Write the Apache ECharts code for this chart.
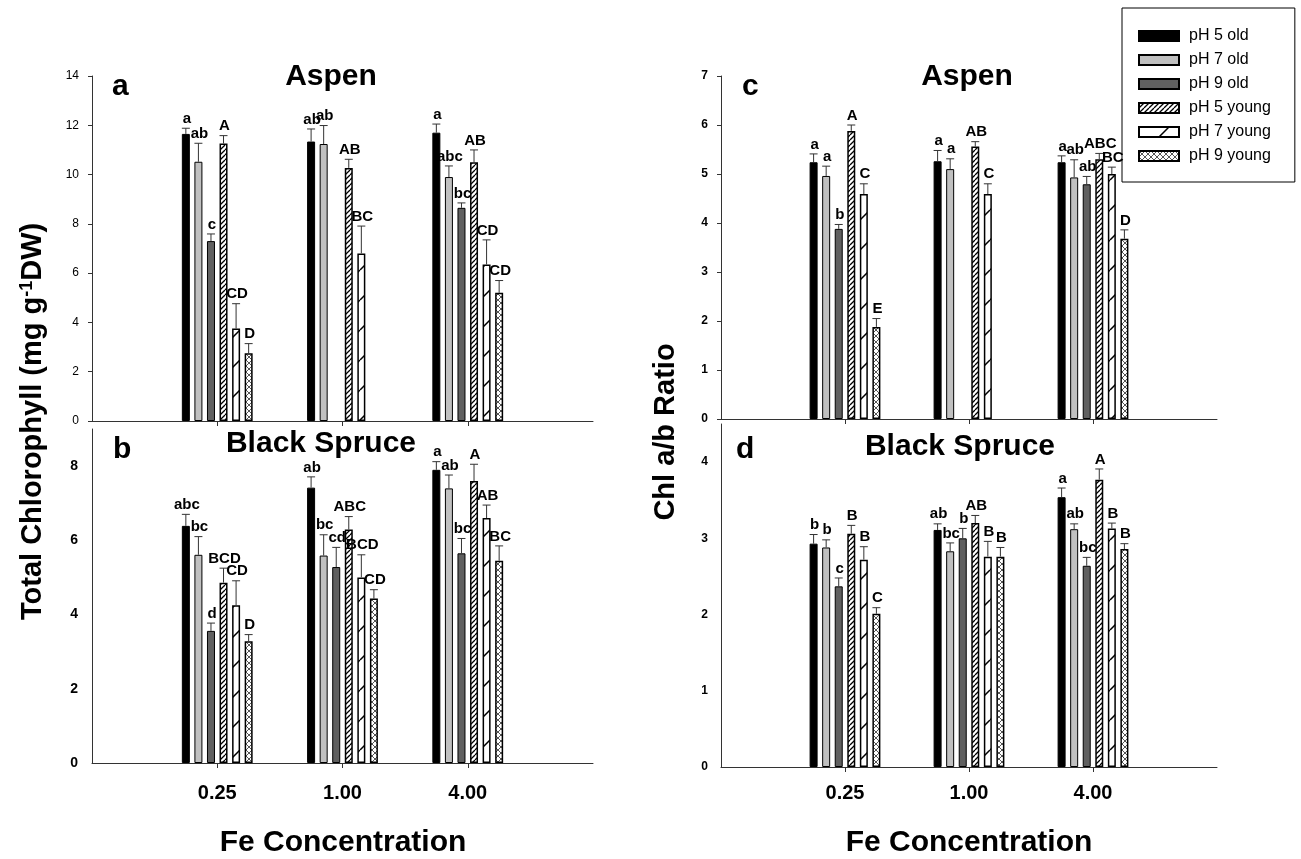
<!DOCTYPE html>
<html><head><meta charset="utf-8">
<script src="https://cdn.jsdelivr.net/npm/echarts@6/dist/echarts.min.js"></script>
<style>html,body{margin:0;padding:0;background:#fff}#c{width:1301px;height:859px}</style>
</head><body><div id="c"></div><script>
// ---------------- DATA ----------------
const categories = ['0.25', '1.00', '4.00'];
const seriesNames = ['pH 5 old', 'pH 7 old', 'pH 9 old', 'pH 5 young', 'pH 7 young', 'pH 9 young'];

// rows = series (seriesNames order), cols = categories
// (a) Aspen, total chlorophyll
const aMean = [
  [11.65, 11.34, 11.70],
  [10.52, 11.24, 9.90],
  [7.30, null, 8.65],
  [11.26, 10.27, 10.50],
  [3.75, 6.80, 6.35],
  [2.75, null, 5.20]
];
const aSE = [
  [0.23, 0.51, 0.35],
  [0.75, 0.75, 0.45],
  [0.29, null, 0.20],
  [0.32, 0.35, 0.50],
  [1.01, 1.11, 1.00],
  [0.39, null, 0.50]
];
const aLetters = [
  ['a', 'ab', 'a'],
  ['ab', 'ab', 'abc'],
  ['c', '', 'bc'],
  ['A', 'AB', 'AB'],
  ['CD', 'BC', 'CD'],
  ['D', '', 'CD']
];
// (b) Black Spruce, total chlorophyll
const bMean = [
  [6.39, 7.42, 7.90],
  [5.61, 5.59, 7.40],
  [3.56, 5.28, 5.65],
  [4.86, 6.29, 7.60],
  [4.25, 5.00, 6.60],
  [3.28, 4.43, 5.45]
];
const bSE = [
  [0.31, 0.29, 0.22],
  [0.49, 0.56, 0.36],
  [0.21, 0.53, 0.40],
  [0.39, 0.35, 0.45],
  [0.66, 0.61, 0.35],
  [0.18, 0.24, 0.40]
];
const bLetters = [
  ['abc', 'ab', 'a'],
  ['bc', 'bc', 'ab'],
  ['d', 'cd', 'bc'],
  ['BCD', 'ABC', 'A'],
  ['CD', 'BCD', 'AB'],
  ['D', 'CD', 'BC']
];
// (c) Aspen, Chl a/b ratio
const cMean = [
  [5.24, 5.26, 5.24],
  [4.96, 5.10, 4.93],
  [3.88, null, 4.79],
  [5.88, 5.56, 5.30],
  [4.59, 4.59, 5.00],
  [1.88, null, 3.68]
];
const cSE = [
  [0.17, 0.22, 0.13],
  [0.20, 0.21, 0.36],
  [0.09, null, 0.16],
  [0.12, 0.10, 0.12],
  [0.21, 0.21, 0.14],
  [0.17, null, 0.18]
];
const cLetters = [
  ['a', 'a', 'a'],
  ['a', 'a', 'ab'],
  ['b', '', 'ab'],
  ['A', 'AB', 'ABC'],
  ['C', 'C', 'BC'],
  ['E', '', 'D']
];
// (d) Black Spruce, Chl a/b ratio
const dMean = [
  [2.93, 3.11, 3.54],
  [2.88, 2.83, 3.12],
  [2.37, 3.00, 2.64],
  [3.06, 3.20, 3.77],
  [2.72, 2.76, 3.13],
  [2.01, 2.76, 2.86]
];
const dSE = [
  [0.12, 0.08, 0.12],
  [0.10, 0.11, 0.07],
  [0.11, 0.13, 0.11],
  [0.11, 0.10, 0.14],
  [0.17, 0.20, 0.07],
  [0.08, 0.12, 0.07]
];
const dLetters = [
  ['b', 'ab', 'a'],
  ['b', 'bc', 'ab'],
  ['c', 'b', 'bc'],
  ['B', 'AB', 'A'],
  ['B', 'B', 'B'],
  ['C', 'B', 'B']
];

// ---------------- STYLE ----------------
const FONT = '"Liberation Sans", Arial, Helvetica, sans-serif';
function makePattern(size, lw, color, cross) {
  const c = document.createElement('canvas');
  c.width = size; c.height = size;
  const g = c.getContext('2d');
  g.fillStyle = '#fff'; g.fillRect(0, 0, size, size);
  g.strokeStyle = color; g.lineWidth = lw;
  g.beginPath();
  for (const k of [-1, 0, 1]) {
    g.moveTo(k * size, size); g.lineTo(k * size + size, 0);
    if (cross) { g.moveTo(k * size, 0); g.lineTo(k * size + size, size); }
  }
  g.stroke();
  return { image: c, repeat: 'repeat' };
}
const barStyles = [
  { color: '#000000', borderColor: '#000', borderWidth: 1 },
  { color: '#c0c0c0', borderColor: '#000', borderWidth: 1 },
  { color: '#606060', borderColor: '#000', borderWidth: 1 },
  { color: makePattern(5, 1.3, '#000', false), borderColor: '#000', borderWidth: 1.5 },
  { color: makePattern(30, 1.5, '#000', false), borderColor: '#000', borderWidth: 1.5 },
  { color: makePattern(6, 0.9, '#444', true), borderColor: '#000', borderWidth: 1.5 }
];
const BAR_W = 8, BAR_GAP = 0.57;
const STEP = BAR_W * (1 + BAR_GAP);

const panels = [
  { mean: aMean, se: aSE, letters: aLetters, grid: { left: 92, top: 76, width: 501, height: 345 },
    y: { max: 14, interval: 2, font: 12, weight: 'normal', ticks: true, margin: 13 }, xLabels: false },
  { mean: bMean, se: bSE, letters: bLetters, grid: { left: 92, top: 429, width: 501, height: 334 },
    y: { max: 9, interval: 2, font: 14, weight: 'bold', ticks: false, margin: 14 }, xLabels: true, xMargin: 20 },
  { mean: cMean, se: cSE, letters: cLetters, grid: { left: 721, top: 76, width: 496, height: 343 },
    y: { max: 7, interval: 1, font: 12, weight: 'bold', ticks: true, margin: 13 }, xLabels: false },
  { mean: dMean, se: dSE, letters: dLetters, grid: { left: 721, top: 424, width: 496, height: 343 },
    y: { max: 4.5, interval: 1, font: 12, weight: 'bold', ticks: false, margin: 13 }, xLabels: true, xMargin: 16 }
];

const xCats = [''].concat(categories, ['']);
const grids = [], xAxes = [], yAxes = [], series = [];
panels.forEach((p, pi) => {
  grids.push(Object.assign({ containLabel: false }, p.grid));
  xAxes.push({
    type: 'category', gridIndex: pi, data: xCats, boundaryGap: false,
    axisLine: { lineStyle: { color: '#333', width: 1 } },
    axisTick: { show: true, length: 5, inside: false, lineStyle: { color: '#333' },
      interval: (i, v) => v !== '' },
    axisLabel: { show: p.xLabels, interval: 0, margin: p.xMargin || 8, fontSize: 20, fontWeight: 'bold',
      color: '#000', fontFamily: FONT },
    splitLine: { show: false }
  });
  yAxes.push({
    type: 'value', gridIndex: pi, min: 0, max: p.y.max, interval: p.y.interval,
    axisLine: { show: true, lineStyle: { color: '#333', width: 1 } },
    axisTick: { show: p.y.ticks, length: 4, lineStyle: { color: '#333' } },
    axisLabel: { fontSize: p.y.font, fontWeight: p.y.weight, color: '#000', fontFamily: FONT,
      margin: p.y.margin, showMaxLabel: (p.y.max % p.y.interval === 0) },
    splitLine: { show: false }
  });
  p.mean.forEach((row, s) => {
    series.push({
      type: 'bar', name: seriesNames[s], xAxisIndex: pi, yAxisIndex: pi,
      data: [null].concat(row, [null]),
      barWidth: BAR_W, barGap: (BAR_GAP * 100) + '%',
      itemStyle: barStyles[s], emphasis: { disabled: true }, animation: false
    });
  });
  const errData = [];
  p.mean.forEach((row, s) => row.forEach((v, ci) => {
    if (v !== null) errData.push([ci + 1, v, p.se[s][ci], s, ci]);
  }));
  series.push({
    type: 'custom', xAxisIndex: pi, yAxisIndex: pi, data: errData, clip: false, z: 5,
    animation: false, silent: true,
    renderItem: (params, api) => {
      const cat = api.value(0), m = api.value(1), se = api.value(2), s = api.value(3), ci = api.value(4);
      const base = api.coord([cat, m]);
      const top = api.coord([cat, m + se]);
      const x = base[0] + (s - 2.5) * STEP;
      const lbl = p.letters[s][ci];
      return { type: 'group', children: [
        { type: 'line', shape: { x1: x, y1: base[1], x2: x, y2: top[1] }, style: { stroke: '#333', lineWidth: 1 } },
        { type: 'line', shape: { x1: x - 4, y1: top[1], x2: x + 4, y2: top[1] }, style: { stroke: '#333', lineWidth: 1 } },
        { type: 'text', style: { x: x + 1, y: top[1] - 2, text: lbl, textAlign: 'center', textVerticalAlign: 'bottom',
          font: 'bold 15px ' + FONT, fill: '#000' } }
      ] };
    }
  });
});

function txt(x, y, text, size, align, rot) {
  return { type: 'text', x: x, y: y, rotation: rot || 0, silent: true,
    style: { text: text, font: 'bold ' + size + 'px ' + FONT, fill: '#000', textAlign: align || 'center', textVerticalAlign: 'middle' } };
}
const graphics = [
  txt(112, 87, 'a', 30, 'left'),
  txt(331, 77, 'Aspen', 30),
  txt(113, 450, 'b', 30, 'left'),
  txt(321, 444, 'Black Spruce', 30),
  txt(742, 87, 'c', 30, 'left'),
  txt(967, 77, 'Aspen', 30),
  txt(736, 450, 'd', 30, 'left'),
  txt(960, 447, 'Black Spruce', 30),
  txt(343, 843, 'Fe Concentration', 30),
  txt(969, 843, 'Fe Concentration', 30),
  txt(666, 432, 'Chl a/b Ratio', 29, 'center', Math.PI / 2),
  { type: 'text', x: 33, y: 620, rotation: Math.PI / 2, silent: true,
    style: { text: 'Total Chlorophyll (mg g{sup|-1}DW)', font: 'bold 29px ' + FONT, fill: '#000',
      textAlign: 'left', textVerticalAlign: 'middle',
      rich: { sup: { font: 'bold 18px ' + FONT, fill: '#000', verticalAlign: 'top', padding: [0, 0, 12, 0] } } } }
];

const chart = echarts.init(document.getElementById('c'), null, { renderer: 'canvas' });
chart.setOption({
  animation: false,
  backgroundColor: '#fff',
  grid: grids, xAxis: xAxes, yAxis: yAxes, series: series,
  legend: {
    data: seriesNames, orient: 'vertical', left: 1122, top: 8,
    itemWidth: 40, itemHeight: 10, itemGap: 8, icon: 'rect',
    padding: [20, 24, 18, 16], borderColor: '#000', borderWidth: 1, backgroundColor: '#fff',
    textStyle: { fontSize: 16, color: '#000', fontFamily: FONT, padding: [0, 0, 0, 5] },
    selectedMode: false
  },
  graphic: graphics
});
</script></body></html>
